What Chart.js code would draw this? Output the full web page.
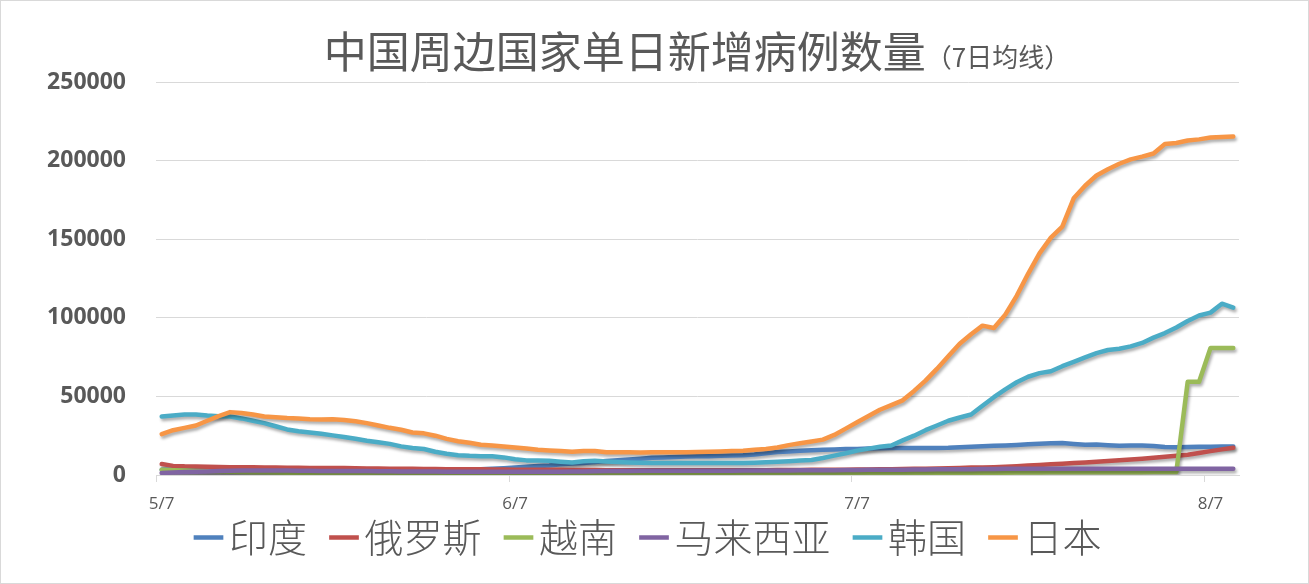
<!DOCTYPE html>
<html>
<head>
<meta charset="utf-8">
<script src="https://cdn.jsdelivr.net/npm/chart.js@4.4.1/dist/chart.umd.min.js"></script>
<style>
  html, body { margin: 0; padding: 0; background: #ffffff; }
  #wrap { position: relative; width: 1309px; height: 584px; }
  #c { position: absolute; left: 0; top: 0; }
  #frame { position: absolute; left: 0; top: 0; width: 1309px; height: 584px; box-sizing: border-box; border: 1px solid #d9d9d9; pointer-events: none; }
</style>
</head>
<body>
<div id="wrap">
  <canvas id="c" width="1309" height="584"></canvas>
  <div id="frame"></div>
</div>
<script>
// ---- Data ----
const TITLE_MAIN = "中国周边国家单日新增病例数量";
const TITLE_SUB = "（7日均线）";

const dates = [
  "5/7","5/8","5/9","5/10","5/11","5/12","5/13","5/14","5/15","5/16","5/17","5/18","5/19","5/20","5/21","5/22","5/23","5/24","5/25","5/26","5/27","5/28","5/29","5/30","5/31",
  "6/1","6/2","6/3","6/4","6/5","6/6","6/7","6/8","6/9","6/10","6/11","6/12","6/13","6/14","6/15","6/16","6/17","6/18","6/19","6/20","6/21","6/22","6/23","6/24","6/25","6/26","6/27","6/28","6/29","6/30",
  "7/1","7/2","7/3","7/4","7/5","7/6","7/7","7/8","7/9","7/10","7/11","7/12","7/13","7/14","7/15","7/16","7/17","7/18","7/19","7/20","7/21","7/22","7/23","7/24","7/25","7/26","7/27","7/28","7/29","7/30","7/31",
  "8/1","8/2","8/3","8/4","8/5","8/6","8/7","8/8","8/9"
];
const shownDateLabels = ["5/7","6/7","7/7","8/7"];
const yTicks = [0, 50000, 100000, 150000, 200000, 250000];

const seriesNames = ["印度","俄罗斯","越南","马来西亚","韩国","日本"];

const india = [
  3300,3300,3300,3300,3200,3200,3100,3000,2900,2800,
  2700,2600,2500,2400,2400,2300,2300,2200,2200,2200,
  2200,2300,2400,2500,2600,2800,3000,3300,3600,3900,
  4300,4800,5300,5700,6100,6800,7300,7700,8300,8900,
  9400,9900,10400,10900,11200,11500,11700,11900,12000,12200,
  12400,12600,13000,13800,14600,15000,15400,15800,16100,16300,
  16500,16600,16800,17000,17100,17100,17100,17200,17200,17300,
  17600,17900,18300,18600,18800,19100,19500,19900,20200,20300,
  19700,19200,19400,19000,18600,18800,18800,18400,17800,17600,
  17800,18000,18000,18100,18200
];
const russia = [
  7000,5800,5500,5400,5200,5100,5000,4900,4900,4800,
  4700,4600,4600,4500,4500,4400,4400,4300,4200,4100,
  4000,3900,3900,3800,3800,3700,3700,3600,3600,3500,
  3500,3400,3400,3300,3300,3300,3200,3200,3200,3100,
  3100,3100,3100,3100,3100,3100,3100,3100,3100,3100,
  3100,3100,3100,3100,3200,3200,3200,3300,3300,3400,
  3400,3500,3500,3600,3700,3800,3900,4000,4100,4300,
  4500,4700,4800,5000,5300,5600,6000,6400,6800,7200,
  7600,8000,8500,8900,9400,9900,10400,11000,11600,12200,
  12900,14000,15200,16300,17300
];
const vietnam = [
  3400,3100,2800,2600,2400,2200,2000,1900,1800,1700,
  1600,1500,1400,1300,1200,1200,1100,1100,1000,1000,
  900,900,900,800,800,800,700,700,700,700,
  700,600,600,600,600,600,600,600,600,600,
  600,600,600,600,600,600,600,600,600,600,
  600,600,600,600,600,600,700,700,800,800,
  900,900,1000,1000,1100,1100,1200,1200,1300,1300,
  1400,1400,1500,1500,1500,1600,1600,1600,1700,1700,
  1700,1700,1800,1800,1800,1800,1800,1900,1900,1900,
  59300,59300,80800,80800,80800
];
const malaysia = [
  1300,1600,1900,2100,2300,2500,2700,2800,2900,2900,
  2800,2800,2700,2700,2600,2600,2600,2500,2500,2400,
  2400,2300,2300,2200,2200,2100,2100,2000,2000,2000,
  2000,2000,2000,2000,2000,2100,2200,2300,2400,2500,
  2600,2600,2700,2700,2700,2700,2700,2700,2700,2700,
  2700,2800,2800,2800,2900,2900,3000,3000,3100,3100,
  3200,3200,3300,3300,3400,3400,3500,3500,3600,3600,
  3700,3700,3800,3800,3900,3900,3900,4000,4000,4000,
  4000,4000,4000,4000,4000,4000,4000,4000,4000,4000,
  4000,4000,4000,4000,4000
];
const korea = [
  37200,37800,38500,38500,37800,37400,37200,36000,34500,33000,
  31000,29000,27800,27000,26200,25200,24200,23000,21800,20800,
  19800,18200,17200,16500,14800,13500,12600,12200,12000,11900,
  11200,10000,9300,9200,9000,8500,8000,8800,9000,8600,
  8300,8000,7800,7700,7600,7600,7600,7600,7600,7600,
  7600,7600,7800,8100,8500,8800,9200,9600,10800,12300,
  13800,15500,16800,18000,18800,22000,25000,28500,31500,34500,
  36600,38500,44000,49500,54500,59000,62500,64800,66000,69200,
  72000,74800,77500,79500,80300,81800,84000,87400,90300,93800,
  98000,101500,103300,109000,106500
];
const japan = [
  26000,28500,30000,31500,34500,37500,40000,39500,38500,37200,
  36800,36200,36000,35500,35300,35500,35000,34200,33000,31500,
  30000,28800,27000,26500,25000,23000,21500,20500,19300,18800,
  18200,17500,16800,16000,15600,15200,14800,15200,15200,14500,
  14400,14400,14300,14400,14400,14400,14500,14600,14800,15000,
  15200,15500,16000,16500,17500,19000,20200,21300,22500,25500,
  29500,33500,37500,41500,44500,47500,53500,60000,67500,75500,
  83500,89500,95000,93500,102000,114000,128000,141000,151000,158000,
  176000,184000,190500,194500,198000,200800,202500,204500,210500,211200,
  212800,213500,214700,215000,215300
];

const seriesValues = [india, russia, vietnam, malaysia, korea, japan];
const seriesColors = ["#4f81bd","#c0504d","#9bbb59","#8064a2","#4bacc6","#f79646"];

// ---- Chart ----
const TEXT_COLOR = "#595959";
const GRID_COLOR = "#d9d9d9";
const CJK = "'Noto Sans CJK SC', 'Noto Sans', sans-serif";

const titlePlugin = {
  id: 'mixedTitle',
  afterDraw(chart) {
    const ctx = chart.ctx;
    ctx.save();
    ctx.fillStyle = TEXT_COLOR;
    ctx.textBaseline = 'alphabetic';
    ctx.textAlign = 'left';
    ctx.font = "400 43px " + CJK;
    const w1 = ctx.measureText(TITLE_MAIN).width;
    ctx.font = "400 26px " + CJK;
    const w2 = ctx.measureText(TITLE_SUB).width;
    const start = 697 - (w1 + w2) / 2;
    ctx.font = "400 43px " + CJK;
    ctx.fillText(TITLE_MAIN, start, 68);
    ctx.font = "400 26px " + CJK;
    ctx.fillText(TITLE_SUB, start + w1, 67);
    ctx.restore();
  }
};

// let the x-axis labels draw below the (deliberately thin) axis box
const axisLabelRoom = {
  id: 'axisLabelRoom',
  afterLayout(chart) {
    const x = chart.scales.x;
    x.bottom = x.top + 46;
  }
};

const shadowPlugin = {
  id: 'lineShadow',
  beforeDatasetDraw(chart) {
    const ctx = chart.ctx;
    ctx.save();
    ctx.shadowColor = 'rgba(0,0,0,0.32)';
    ctx.shadowBlur = 3;
    ctx.shadowOffsetX = 1.5;
    ctx.shadowOffsetY = 2.5;
  },
  afterDatasetDraw(chart) {
    chart.ctx.restore();
  }
};

const datasets = seriesNames.map((name, i) => ({
  label: name,
  data: seriesValues[i],
  borderColor: seriesColors[i],
  backgroundColor: seriesColors[i],
  borderWidth: 4.5,
  borderCapStyle: 'round',
  borderJoinStyle: 'round',
  pointRadius: 0,
  pointHoverRadius: 0,
  tension: 0,
  fill: false,
  order: seriesNames.length - 1 - i
}));

new Chart(document.getElementById('c'), {
  type: 'line',
  data: { labels: dates, datasets },
  plugins: [titlePlugin, axisLabelRoom, shadowPlugin],
  options: {
    responsive: false,
    animation: false,
    devicePixelRatio: 1,
    layout: { padding: { top: 82, bottom: 17, left: 0, right: 0 } },
    plugins: {
      title: { display: false },
      tooltip: { enabled: false },
      legend: {
        position: 'bottom',
        labels: {
          usePointStyle: true,
          pointStyle: 'line',
          boxWidth: 2,
          boxHeight: 21,
          padding: 36,
          color: TEXT_COLOR,
          font: { family: CJK, size: 39, weight: '300' },
          sort: (a, b) => a.datasetIndex - b.datasetIndex
        }
      }
    },
    scales: {
      x: {
        type: 'category',
        offset: true,
        border: { display: true, color: GRID_COLOR, width: 1 },
        grid: {
          offset: true,
          drawOnChartArea: false,
          drawTicks: true,
          tickLength: 7,
          color: (ctx) => (ctx.index < dates.length && shownDateLabels.includes(dates[ctx.index])) ? GRID_COLOR : 'rgba(0,0,0,0)'
        },
        ticks: {
          autoSkip: false,
          maxRotation: 0,
          minRotation: 0,
          padding: 12,
          color: TEXT_COLOR,
          font: { family: "'Open Sans', sans-serif", size: 17 },
          callback: function (v, i) { return shownDateLabels.includes(dates[i]) ? dates[i] : ''; }
        },
        afterFit: (s) => { s.height = 7; }
      },
      y: {
        position: 'left',
        min: yTicks[0],
        max: yTicks[yTicks.length - 1],
        border: { display: false },
        grid: { color: GRID_COLOR, lineWidth: 1, drawTicks: false },
        afterBuildTicks: (s) => { s.ticks = yTicks.map(v => ({ value: v })); },
        ticks: {
          padding: 30,
          color: TEXT_COLOR,
          font: { family: "'Open Sans', sans-serif", size: 23, weight: 'bold' },
          callback: (v) => String(v)
        },
        afterFit: (s) => { s.width = 156; }
      },
      yRight: {
        position: 'right',
        display: true,
        border: { display: false },
        grid: { display: false },
        ticks: { display: false },
        afterFit: (s) => { s.width = 70; }
      }
    }
  }
});
</script>
</body>
</html>
